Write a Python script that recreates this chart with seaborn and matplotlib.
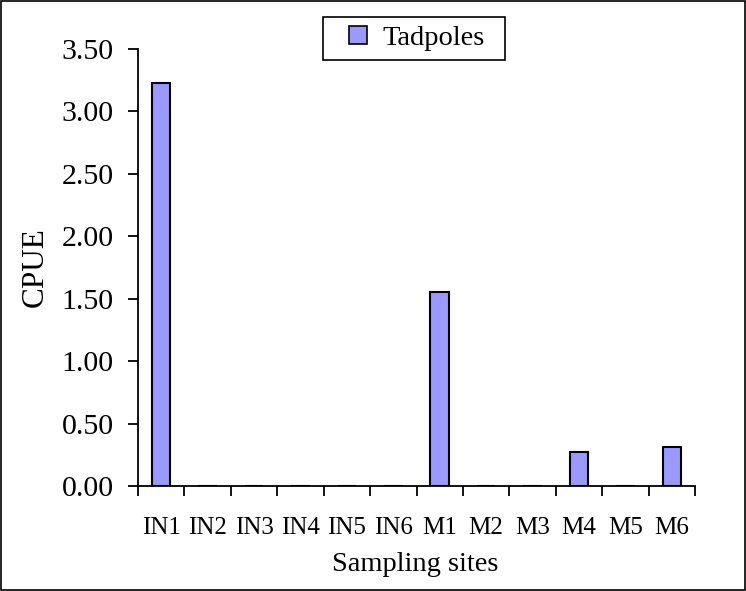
import matplotlib
matplotlib.use("Agg")
import matplotlib.pyplot as plt
import seaborn as sns
import pandas as pd
import numpy as np
from matplotlib.patches import Rectangle, Patch

sites = ["IN1", "IN2", "IN3", "IN4", "IN5", "IN6", "M1", "M2", "M3", "M4", "M5", "M6"]
tadpoles = [3.23, 0, 0, 0, 0, 0, 1.55, 0, 0, 0.27, 0, 0.31]
yticks = [0.0, 0.5, 1.0, 1.5, 2.0, 2.5, 3.0, 3.5]

sns.set_theme(style="white")
plt.rcParams['font.family'] = ['Liberation Serif', 'DejaVu Serif']
plt.rcParams['text.color'] = 'black'
plt.rcParams['axes.labelcolor'] = 'black'
plt.rcParams['xtick.color'] = 'black'
plt.rcParams['ytick.color'] = 'black'

df = pd.DataFrame({"site": sites, "CPUE": tadpoles})

W, H = 746, 591
fig = plt.figure(figsize=(W / 100, H / 100), dpi=100)
ax = fig.add_axes([138 / W, (H - 486) / H, (695 - 138) / W, (486 - 49) / H])

sns.barplot(data=df, x="site", y="CPUE", color="#9999FF", edgecolor="black",
            linewidth=1.5, width=0.4, saturation=1, ax=ax)

ax.set_xlim(-0.5, len(sites) - 0.5)
ax.set_ylim(0, 3.5)
ax.set_yticks(yticks)
ax.set_yticklabels([f"{v:.2f}" for v in yticks], fontsize=21.5)

# Category labels at centres, tick marks at boundaries
ax.set_xticks(np.arange(-0.5, len(sites), 1.0))
ax.set_xticklabels([])
ax.set_xticks(np.arange(len(sites)), minor=True)
ax.set_xticklabels(sites, minor=True, fontsize=18)
ax.tick_params(axis="x", which="major", direction="out", length=7.5, width=1.3, bottom=True)
ax.tick_params(axis="x", which="minor", length=0, pad=22)
ax.tick_params(axis="y", direction="out", length=7.5, width=1.3, left=True, pad=10)

for s in ["top", "right"]:
    ax.spines[s].set_visible(False)
for s in ["left", "bottom"]:
    ax.spines[s].set_color("black")
    ax.spines[s].set_linewidth(1.3)

ax.set_xlabel("Sampling sites", fontsize=20.5)
ax.set_ylabel("CPUE", fontsize=22.5)
ax.xaxis.set_label_coords((415 - 138) / 557, (486 - 552) / 437)
ax.yaxis.set_label_coords((50 - 138) / 557, 0.5)

# Legend: frame drawn as a separate rectangle to match the wide padding
fig.patches.append(Rectangle((323 / W, 1 - 60 / H), (505 - 323) / W, 43 / H,
                             transform=fig.transFigure, fill=False,
                             edgecolor="black", linewidth=1.2))
handle = Patch(facecolor="#9999FF", edgecolor="black", linewidth=1.2)
leg = fig.legend([handle], ["Tadpoles"], loc="center", bbox_to_anchor=(417 / W, 1 - 38.5 / H),
                 fontsize=20.5, frameon=False,
                 handlelength=0.62, handleheight=0.62, borderpad=0.2, handletextpad=0.55,
                 borderaxespad=0)

fig.patches.append(Rectangle((0.002, 0.002), 0.996, 0.996, transform=fig.transFigure,
                             fill=False, edgecolor="black", linewidth=1.2))

fig.savefig("out.png", dpi=100)
